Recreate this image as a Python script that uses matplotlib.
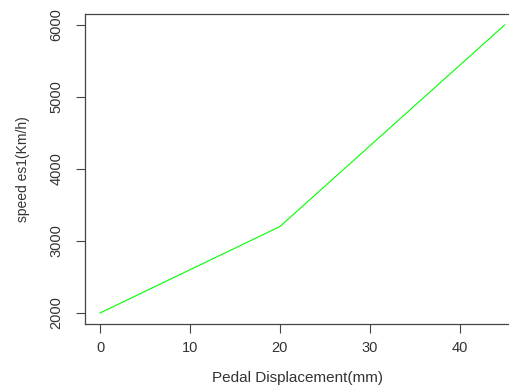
#-----------------------------------------------
# Pedal displacement vs speed (R base-graphics look)
#-----------------------------------------------
import numpy as np
import matplotlib.pyplot as plt

plt.rcParams['font.family'] = ['Liberation Sans', 'DejaVu Sans']

#-----------------------------------------------
# Data
#-----------------------------------------------
displacement = np.array([0, 20, 45])          # mm
speed = np.array([2000, 3200, 6000])          # Km/h

x_ticks = [0, 10, 20, 30, 40]
y_ticks = [2000, 3000, 4000, 5000, 6000]

#-----------------------------------------------
# Plot
#-----------------------------------------------
fig = plt.figure(figsize=(5.10, 3.87), dpi=100)
ax = fig.add_axes([85 / 510, 63 / 387, 425 / 510, 310 / 387])

ax.plot(displacement, speed, color="#00ff00", linewidth=0.8)

ax.set_xlim(-1.67, 45.6)
ax.set_ylim(1847, 6153)
ax.set_xticks(x_ticks)
ax.set_yticks(y_ticks)
ax.tick_params(axis="both", direction="out", length=6.5, width=0.8,
               color="#444444", labelcolor="#333333", labelsize=10.5)
ax.tick_params(axis="x", pad=6)
ax.tick_params(axis="y", pad=9)
for lbl in ax.get_yticklabels():
    lbl.set_rotation(90)
    lbl.set_va("center")

for side in ["left", "bottom", "top"]:
    ax.spines[side].set_color("#444444")
    ax.spines[side].set_linewidth(0.9)
ax.spines["right"].set_visible(False)

ax.set_xlabel("Pedal Displacement(mm)", fontsize=11, color="#333333", labelpad=11)
ax.set_ylabel("speed es1(Km/h)", fontsize=10, color="#333333", labelpad=14)

fig.savefig("out.png", dpi=100)
